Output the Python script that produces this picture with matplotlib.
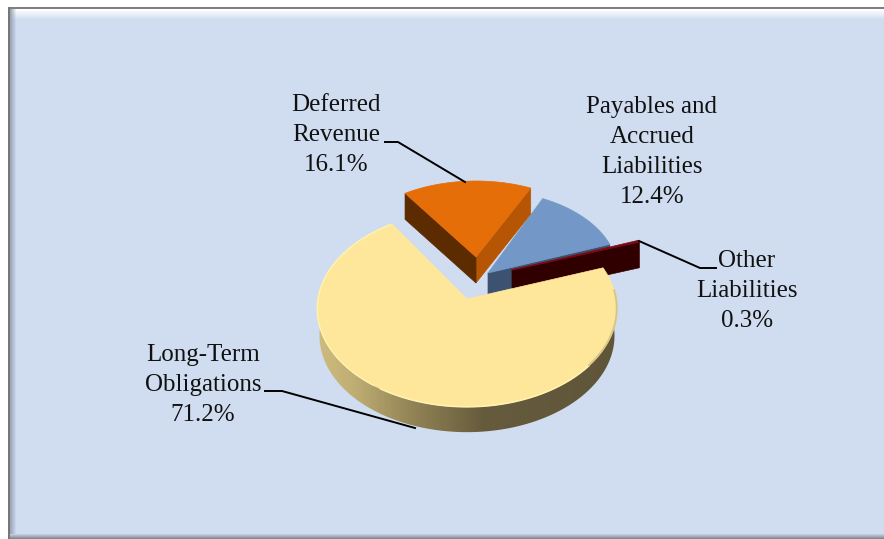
import numpy as np
import matplotlib
matplotlib.use('Agg')
import matplotlib.pyplot as plt
from matplotlib.colors import LinearSegmentedColormap
from matplotlib.patches import Polygon

# chart data
labels = ['Long-Term\nObligations', 'Deferred\nRevenue',
          'Payables and\nAccrued\nLiabilities', 'Other\nLiabilities']
shares = [71.2, 16.1, 12.4, 0.3]
top_colors = ['#FEE79B', '#E66E09', '#7397C7', '#7A0A14']

# 3d look of each slice: centre in px, radii, depth, perspective
centers = [(467, 299), (476, 257), (488, 273), (512, 270)]
radii = [(149, 97), (130, 76), (130, 82), (135, 85)]
depths = [27, 26, 21, 26]
persp = [0.1, 0, 0, 0]
start_angle = 19.4

label_pos = [(203, 385), (336, 135), (652, 152), (747, 291)]
leaders = [[(265, 391), (282, 391), (415, 428)],
           [(385, 142), (398, 142), (465, 182)],
           None,
           [(639, 241), (700, 268), (716, 268)]]

BG = np.array([208, 221, 240]) / 255

fig = plt.figure(figsize=(8.84, 5.39), dpi=100)
ax = fig.add_axes([0, 0, 1, 1])
ax.set_xlim(0, 884)
ax.set_ylim(539, 0)
ax.axis('off')
plt.rcParams['font.family'] = ['Liberation Serif', 'DejaVu Serif']


def draw_background():
    img = np.ones((539, 884, 3)) * BG
    # bevel on top and left, grey edge at the bottom
    for i in range(10):
        w = 1 - i / 10
        img[9 + i, 10:] = BG * (1 - w) + np.array([1, 1, 1]) * w
    for i in range(6):
        w = 1 - i / 6
        img[9:, 10 + i] = img[9:, 10 + i] * (1 - w) + np.array([.62, .65, .72]) * w
    for i in range(5):
        w = (i + 1) / 5
        img[534 + i, 10:] = BG * (1 - w) + np.array([.52, .54, .58]) * w
    img[7:9, 8:] = (.5, .5, .5)
    img[7:, 8:10] = (.47, .47, .47)
    img[:7, :] = 1
    img[:, :8] = 1
    ax.imshow(img, extent=(0, 884, 539, 0), aspect='auto', zorder=0, interpolation='nearest')
    ax.set_xlim(0, 884)
    ax.set_ylim(539, 0)


def project(i, theta, dz=0.0, shrink=1.0):
    # slice angle (deg) to px, with optional drop for the lower face
    x = np.cos(np.radians(theta))
    y = np.sin(np.radians(theta))
    s = 1 / (1 + persp[i] * y) * shrink
    return (centers[i][0] + radii[i][0] * x * s,
            centers[i][1] - radii[i][1] * y * s + dz)


def arc(i, a0, a1, dz=0.0, shrink=1.0):
    t = np.linspace(a0, a1, 200)
    return np.column_stack(project(i, t, dz, shrink))


def radial_wall(i, theta, color, z):
    c = centers[i]
    px, py = project(i, theta)
    d = depths[i]
    ax.add_patch(Polygon([c, (px, py), (px, py + d), (c[0], c[1] + d)],
                         closed=True, fc=color, ec=color, lw=0.5, zorder=z))


def top_face(i, a0, a1, color, z):
    pts = np.vstack([[centers[i]], arc(i, a0, a1)])
    ax.add_patch(Polygon(pts, closed=True, fc=color, ec=color, lw=0.5, zorder=z))


draw_background()

# slice angles, clockwise from the start angle
edges = start_angle - np.cumsum([0] + shares) * 3.6
lt_a, lt_b = edges[0], edges[1]
df_a, df_b = edges[1], edges[2]
pay_a, pay_b = edges[2], edges[3]
oth_a, oth_b = edges[3], edges[4]

# payables
radial_wall(2, pay_b, '#3D5170', 2)
top_face(2, pay_a, pay_b, top_colors[2], 3)
# other liabilities: thin slice, almost only its wall shows
radial_wall(3, oth_b, '#300000', 4)
top_face(3, oth_a, oth_b, top_colors[3], 5)
c3 = centers[3]
ax.plot([c3[0], project(3, oth_b)[0]], [c3[1], project(3, oth_b)[1]],
        color=top_colors[3], lw=1.0, zorder=5)
# deferred revenue
radial_wall(1, df_b, '#B65604', 6)
radial_wall(1, df_a, '#5C2B00', 6)
top_face(1, df_a, df_b, top_colors[1], 7)

# long-term outer wall with horizontal gradient
top_arc = arc(0, lt_a, lt_b)
low_arc = arc(0, lt_a, lt_b, dz=depths[0], shrink=0.985)
wall = Polygon(np.vstack([top_arc, low_arc[::-1]]), closed=True, fc='none', ec='none', zorder=8)
ax.add_patch(wall)
wall_cmap = LinearSegmentedColormap.from_list(
    'wall', [(0, '#CDBB7E'), (0.12, '#BFAD74'), (0.3, '#958657'), (0.55, '#665B3D'), (1, '#5F5539')])
grad = ax.imshow(np.linspace(0, 1, 300).reshape(1, -1), extent=(318, 618, 440, 290),
                 cmap=wall_cmap, aspect='auto', zorder=8)
grad.set_clip_path(wall)
ax.set_xlim(0, 884)
ax.set_ylim(539, 0)

# long-term top face and rim light
top_face(0, lt_a, lt_b, top_colors[0], 9)
ax.plot(*arc(0, -125, -236).T, color='#FFF3B0', lw=1.0, zorder=10)
ax.plot(*arc(0, -122, -40).T, color='#FFF3B0', lw=1.2, zorder=10)
ax.plot(*arc(0, -40, 5, dz=-0.5).T, color='#D9C684', lw=1.4, zorder=10)

# labels and leader lines
for lab, share, pos, leader in zip(labels, shares, label_pos, leaders):
    ax.text(pos[0], pos[1], f'{lab}\n{share:.1f}%', ha='center', va='center',
            fontsize=18, color='#111111', linespacing=1.46, zorder=12)
    if leader:
        xs, ys = zip(*leader)
        ax.plot(xs, ys, color='black', lw=1.4, zorder=11, solid_joinstyle='miter')

fig.savefig('out.png', dpi=100)
